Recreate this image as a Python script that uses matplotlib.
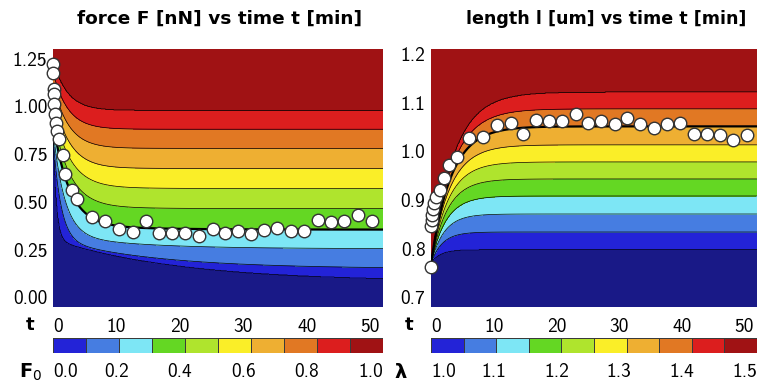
import numpy as np
import matplotlib.pyplot as plt
from matplotlib.colors import ListedColormap

plt.rcParams['font.family'] = ['cmss10', 'DejaVu Sans']
plt.rcParams['axes.formatter.use_mathtext'] = True
plt.rcParams['mathtext.fontset'] = 'dejavusans'

# measured force (left) and length (right)
t_force = [0.0, 0.05, 0.1, 0.15, 0.2, 0.25, 0.4, 0.6, 0.95, 1.5, 1.85, 3.05, 3.85,
           6.2, 8.2, 10.4, 12.6, 14.7, 16.7, 18.8, 20.8, 23.0, 25.2, 27.1, 29.1,
           31.2, 33.3, 35.3, 37.5, 39.5, 41.7, 43.8, 45.9, 48.0, 50.3]
force = [1.22, 1.174, 1.093, 1.062, 1.010, 0.958, 0.914, 0.871, 0.828, 0.745, 0.647, 0.560, 0.513,
         0.422, 0.401, 0.358, 0.344, 0.401, 0.339, 0.339, 0.339, 0.321, 0.356, 0.337, 0.350,
         0.332, 0.353, 0.365, 0.348, 0.348, 0.405, 0.396, 0.399, 0.430, 0.401]

t_len = [0.0, 0.02, 0.1, 0.2, 0.35, 0.5, 0.75, 1.4, 2.1, 2.9, 4.2, 6.1, 8.3, 10.6, 12.7,
         14.6, 16.7, 18.8, 20.9, 23.1, 25.0, 27.2, 29.3, 31.3, 33.4, 35.5, 37.7, 39.8,
         41.9, 44.1, 46.1, 48.2, 50.4]
length = [0.763, 0.847, 0.858, 0.870, 0.882, 0.893, 0.905, 0.921, 0.944, 0.972, 0.989, 1.027,
          1.030, 1.053, 1.058, 1.036, 1.064, 1.062, 1.062, 1.076, 1.058, 1.063, 1.056, 1.068,
          1.055, 1.048, 1.055, 1.058, 1.035, 1.035, 1.034, 1.022, 1.033]

# model level curves, one per colour boundary (F0 = 0.0 ... 0.9)
F0_levels = [0.0, 0.1, 0.2, 0.3, 0.4, 0.5, 0.6, 0.7, 0.8, 0.9]
force_inf = [0.08, 0.15, 0.255, 0.355, 0.465, 0.57, 0.675, 0.78, 0.88, 0.98]
force_start = [0.82, 0.85, 0.88, 0.92, 0.95, 1.00, 1.06, 1.12, 1.18, 1.25]
force_tau = [0.5, 1.2, 1.8, 2.5, 2.6, 2.6, 2.5, 2.4, 2.3, 2.2]
force_slow = [0.3, 0.22, 0.12, 0.05, 0.03, 0.02, 0.0, 0.0, 0.0, 0.0]
force_tau_slow = [20, 16, 12, 10, 8, 8, 8, 8, 8, 8]
force_fit = 3  # index of the fitted curve (bold)

# lambda = 1.00 ... 1.45
lam_levels = [1.0, 1.05, 1.1, 1.15, 1.2, 1.25, 1.3, 1.35, 1.4, 1.45]
len_inf = [0.797, 0.834, 0.871, 0.908, 0.943, 0.978, 1.013, 1.051, 1.087, 1.122]
len_tau = [1.5, 1.8, 2.1, 2.4, 2.6, 2.8, 3.0, 3.2, 3.4, 3.6]
len_start = 0.77
len_fit = 7

F0_ticks = [0.0, 0.2, 0.4, 0.6, 0.8, 1.0]
lam_ticks = [1.0, 1.1, 1.2, 1.3, 1.4, 1.5]
t_ticks = [0, 10, 20, 30, 40, 50]

region_colors = ['#191987', '#2323d7', '#467de1', '#7de6f5', '#64d723', '#afe42d',
                 '#faee28', '#eeaf32', '#e17823', '#dc1e1e', '#a01214']


def force_curves(t):
    out = []
    for a, s, tf, w, ts in zip(force_inf, force_start, force_tau, force_slow, force_tau_slow):
        g = (1 - w) * np.exp(-t / tf) + w * np.exp(-t / ts)
        out.append(a + (s - a) * g)
    return np.array(out)


def length_curves(t):
    return np.array([len_start + (a - len_start) * (1 - np.exp(-t / tau))
                     for a, tau in zip(len_inf, len_tau)])


def level_field(t, y, curves, levels):
    Z = np.empty((len(y), len(t)))
    for j in range(len(t)):
        Z[:, j] = np.interp(y, curves[:, j], levels, left=levels[0] - 1, right=levels[-1] + 1)
    return Z


def first_label_left(ax):
    labs = ax.get_xticklabels()
    labs[0].set_horizontalalignment('left')


def panel(ax, t, y, curves, levels, fit, tdata, ydata, ylim, yticks, ylabels):
    Z = level_field(t, y, curves, levels)
    edges = [levels[0] - 2] + list(levels) + [levels[-1] + 2]
    ax.contourf(t, y, Z, levels=edges, colors=region_colors)
    ax.contour(t, y, Z, levels=levels, colors='k', linewidths=0.5)
    ax.plot(t, curves[fit], color='k', lw=1.6)
    ax.plot(tdata, ydata, 'o', mfc='white', mec='#333333', ms=9, mew=1.0, zorder=5, clip_on=False)
    ax.set_xlim(0, 52)
    ax.set_ylim(*ylim)
    ax.set_xticks(t_ticks)
    ax.set_xticklabels([str(v) for v in t_ticks])
    first_label_left(ax)
    ax.set_yticks(yticks)
    ax.set_yticklabels(ylabels)
    ax.tick_params(length=0, labelsize=14)
    ax.tick_params(axis='x', pad=8)
    ax.tick_params(axis='y', pad=4)
    for s in ax.spines.values():
        s.set_visible(False)


def colorbar(cax, lo, ticks, fmt):
    span = (ticks[-1] - ticks[0]) * 52 / 50
    x = np.linspace(lo, lo + span, 11)
    cax.pcolormesh(x, [0, 1], np.arange(10).reshape(1, -1),
                   cmap=ListedColormap(region_colors[1:]), edgecolors='#3a3a3a', linewidth=0.4)
    cax.set_xlim(lo, lo + span)
    cax.set_ylim(0, 1)
    cax.set_yticks([])
    cax.set_xticks(ticks)
    cax.set_xticklabels([fmt % v for v in ticks])
    first_label_left(cax)
    cax.tick_params(length=0, labelsize=14, pad=7)
    for s in cax.spines.values():
        s.set_visible(False)


fig = plt.figure(figsize=(7.58, 3.84), dpi=100)
ax1 = fig.add_axes([0.0699, 0.2005, 0.4354, 0.672])
ax2 = fig.add_axes([0.5686, 0.2005, 0.4300, 0.672])

t = np.linspace(1e-3, 52, 500)
yF = np.linspace(-0.05, 1.3, 500)
yL = np.linspace(0.68, 1.21, 500)

panel(ax1, t, yF, force_curves(t), F0_levels, force_fit, t_force, force,
      (-0.05, 1.3), [0, 0.25, 0.5, 0.75, 1.0, 1.25],
      ['0.00', '0.25', '0.50', '0.75', '1.00', '1.25'])
panel(ax2, t, yL, length_curves(t), lam_levels, len_fit, t_len, length,
      (0.68, 1.21), [0.7, 0.8, 0.9, 1.0, 1.1, 1.2],
      ['0.7', '0.8', '0.9', '1.0', '1.1', '1.2'])

cax1 = fig.add_axes([0.0699, 0.0807, 0.4354, 0.039])
cax2 = fig.add_axes([0.5686, 0.0807, 0.4300, 0.039])
colorbar(cax1, 0.0, F0_ticks, '%.1f')
colorbar(cax2, 1.0, lam_ticks, '%.1f')

fig.text(0.29, 1 - 19 / 384, 'force F [nN] vs time t [min]', family='DejaVu Sans',
         weight='bold', fontsize=13.3, ha='center', va='center')
fig.text(0.80, 1 - 19 / 384, 'length l [um] vs time t [min]', family='DejaVu Sans',
         weight='bold', fontsize=12.6, ha='center', va='center')
fig.text(30 / 758, 1 - 325 / 384, 't', family='DejaVu Sans', weight='bold', fontsize=13,
         ha='center', va='center')
fig.text(409 / 758, 1 - 325 / 384, 't', family='DejaVu Sans', weight='bold', fontsize=13,
         ha='center', va='center')
fig.text(31 / 758, 1 - 372 / 384, r'$\mathbf{F}_0$', fontsize=14, ha='center', va='center')
fig.text(401 / 758, 1 - 372 / 384, 'λ', family='DejaVu Sans', weight='bold', fontsize=14,
         ha='center', va='center')

fig.savefig('out.png', dpi=100)
